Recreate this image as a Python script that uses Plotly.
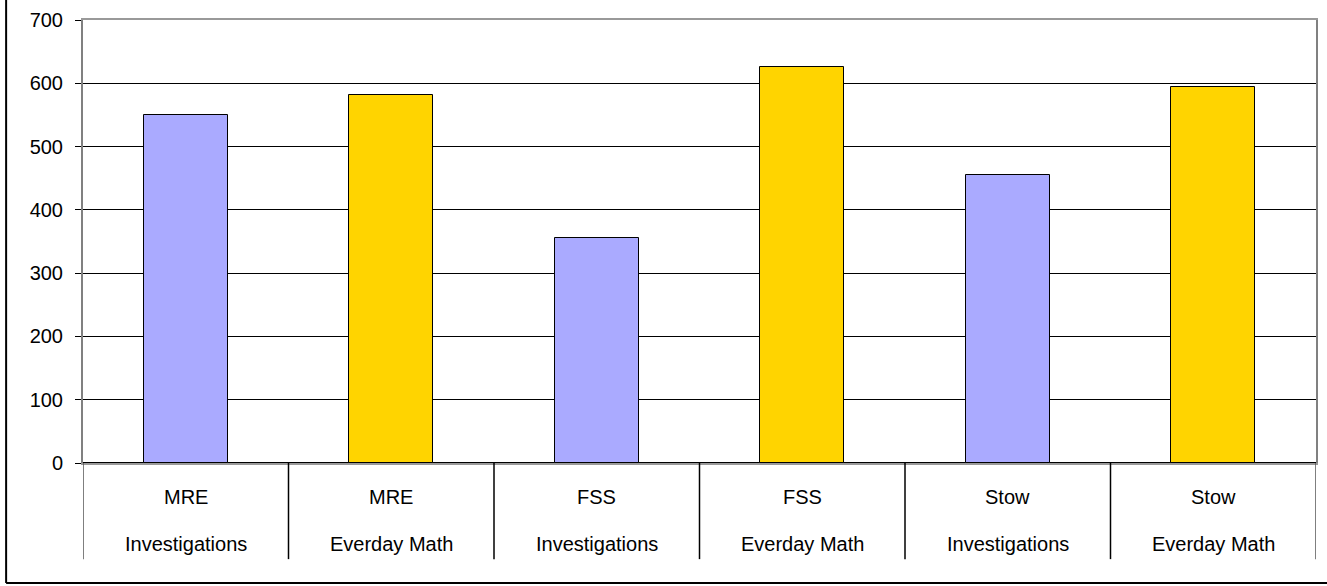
import plotly.graph_objects as go

schools = ["MRE", "MRE", "FSS", "FSS", "Stow", "Stow"]
programs = ["Investigations", "Everday Math", "Investigations", "Everday Math", "Investigations", "Everday Math"]
values = [550, 582, 355, 625, 455, 594]
colors = ["#AAAAFF", "#FFD400", "#AAAAFF", "#FFD400", "#AAAAFF", "#FFD400"]
y_ticks = [0, 100, 200, 300, 400, 500, 600, 700]

W, H = 1327, 586
L, R, T, B = 83, 9, 16, 123
pw, ph = W - L - R, H - T - B

def px_x(p):
    return (p - L) / pw

def px_y(p):
    return (H - B - p) / ph

positions = [i + 0.5 for i in range(len(values))]
font = "Liberation Sans, Arial, sans-serif"

fig = go.Figure(go.Bar(
    x=positions, y=values, width=0.41,
    marker=dict(color=colors, line=dict(color="black", width=1)),
    hoverinfo="skip",
))

shapes = []
# category dividers below axis
for i in range(len(values) + 1):
    shapes.append(dict(type="line", xref="x", yref="paper", x0=i, x1=i,
                       y0=0, y1=px_y(560), line=dict(color="black" if 0 < i < len(values) else "#555555", width=1.5)))
# outer frame (left & bottom visible)
shapes.append(dict(type="line", xref="paper", yref="paper", x0=px_x(6), x1=px_x(6),
                   y0=px_y(-5), y1=px_y(584), line=dict(color="black", width=2)))
shapes.append(dict(type="line", xref="paper", yref="paper", x0=px_x(6), x1=px_x(1330),
                   y0=px_y(584), y1=px_y(584), line=dict(color="black", width=2)))

annotations = []
for i, (s, p) in enumerate(zip(schools, programs)):
    annotations.append(dict(x=positions[i], y=px_y(497), xref="x", yref="paper", text=s,
                            showarrow=False, yanchor="middle", font=dict(size=20, color="black", family=font)))
    annotations.append(dict(x=positions[i], y=px_y(545), xref="x", yref="paper", text=p,
                            showarrow=False, yanchor="middle", font=dict(size=20, color="black", family=font)))

fig.update_layout(
    width=W, height=H,
    margin=dict(l=L, r=R, t=T, b=B, pad=0),
    paper_bgcolor="white", plot_bgcolor="white",
    showlegend=False,
    shapes=shapes, annotations=annotations,
    font=dict(family=font, color="black", size=20),
    xaxis=dict(range=[0, 6], showgrid=False, zeroline=False, showticklabels=False,
               showline=True, linecolor="#999999", linewidth=2, mirror=True, ticks="", fixedrange=True),
    yaxis=dict(range=[0, 700], tickvals=y_ticks, ticks="outside", ticklen=6, tickcolor="black",
               showgrid=True, gridcolor="black", gridwidth=1,
               zeroline=True, zerolinecolor="black", zerolinewidth=1.5,
               showline=True, linecolor="#808080", linewidth=2, mirror=True,
               ticklabelstandoff=8, tickfont=dict(size=20, color="black", family=font), fixedrange=True),
    bargap=0,
)

fig.write_html("out.html", config={"displayModeBar": False})
